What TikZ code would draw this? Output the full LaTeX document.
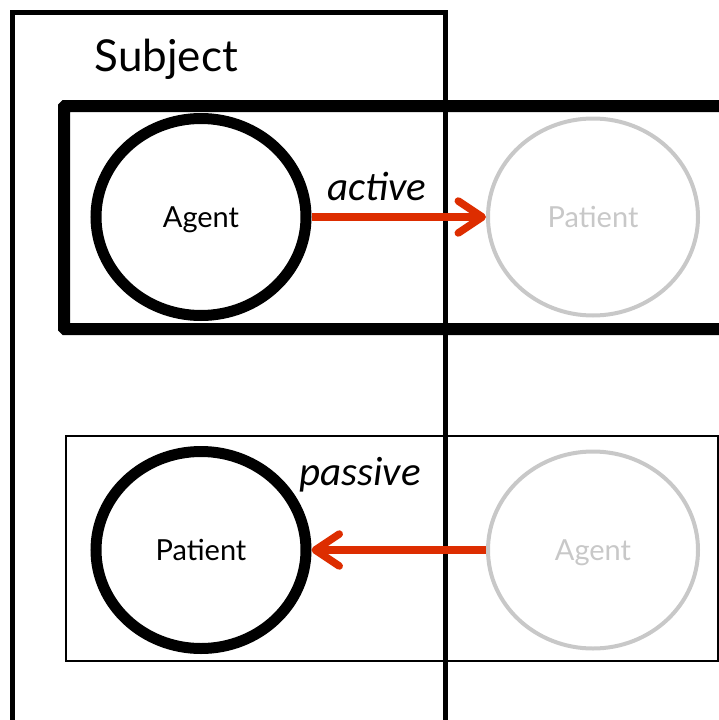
\documentclass[tikz,border=0pt]{standalone}
\usepackage{fontspec}
\setmainfont{Lato}
\newfontfamily\voicefont{Carlito}
\usetikzlibrary{shapes.geometric,arrows.meta}
\definecolor{arrowred}{RGB}{221,45,0}
\definecolor{ghost}{RGB}{200,200,200}

\begin{document}
\begin{tikzpicture}[x=1pt,y=-1pt,
	role/.style={ellipse,minimum width=210pt,minimum height=197pt,inner sep=0pt,
		text depth=0pt,font=\fontsize{29}{30}\selectfont},
	subj/.style={role,draw=black,line width=11pt},
	other/.style={role,draw=ghost,text=ghost,line width=4pt},
	voice/.style={-{Straight Barb[length=24pt,width=32pt,round]},arrowred,line width=7.5pt},
	voicelabel/.style={anchor=base west,font=\voicefont\itshape\fontsize{41}{42}\selectfont}]
	\useasboundingbox (0,0) rectangle (719,720);
	\clip (0,0) rectangle (719,720);
	% subject column
	\draw[line width=4.5pt] (12.5,740)--(12.5,12.5)--(445.5,12.5)--(445.5,740);
	\node[anchor=base west,font=\fontsize{44}{46}\selectfont] (subject) at (91,71.5) {Subject};
	% active row
	\draw[line width=12pt,rounded corners=1pt] (64,106) rectangle (730,329);
	\node[subj] (agentA) at (201,217) {Agent};
	\node[other] (patientA) at (593,217) {Patient};
	\draw[voice] (agentA) -- (patientA);
	\node[voicelabel] (active) at (324,200) {active};
	% passive row
	\draw[line width=2pt] (66,436) rectangle (718,660.5);
	\node[subj] (patientB) at (201,550) {Patient};
	\node[other] (agentB) at (593,550) {Agent};
	\draw[voice] (agentB) -- (patientB);
	\node[voicelabel] (passive) at (296,485) {passive};
\end{tikzpicture}
\end{document}
